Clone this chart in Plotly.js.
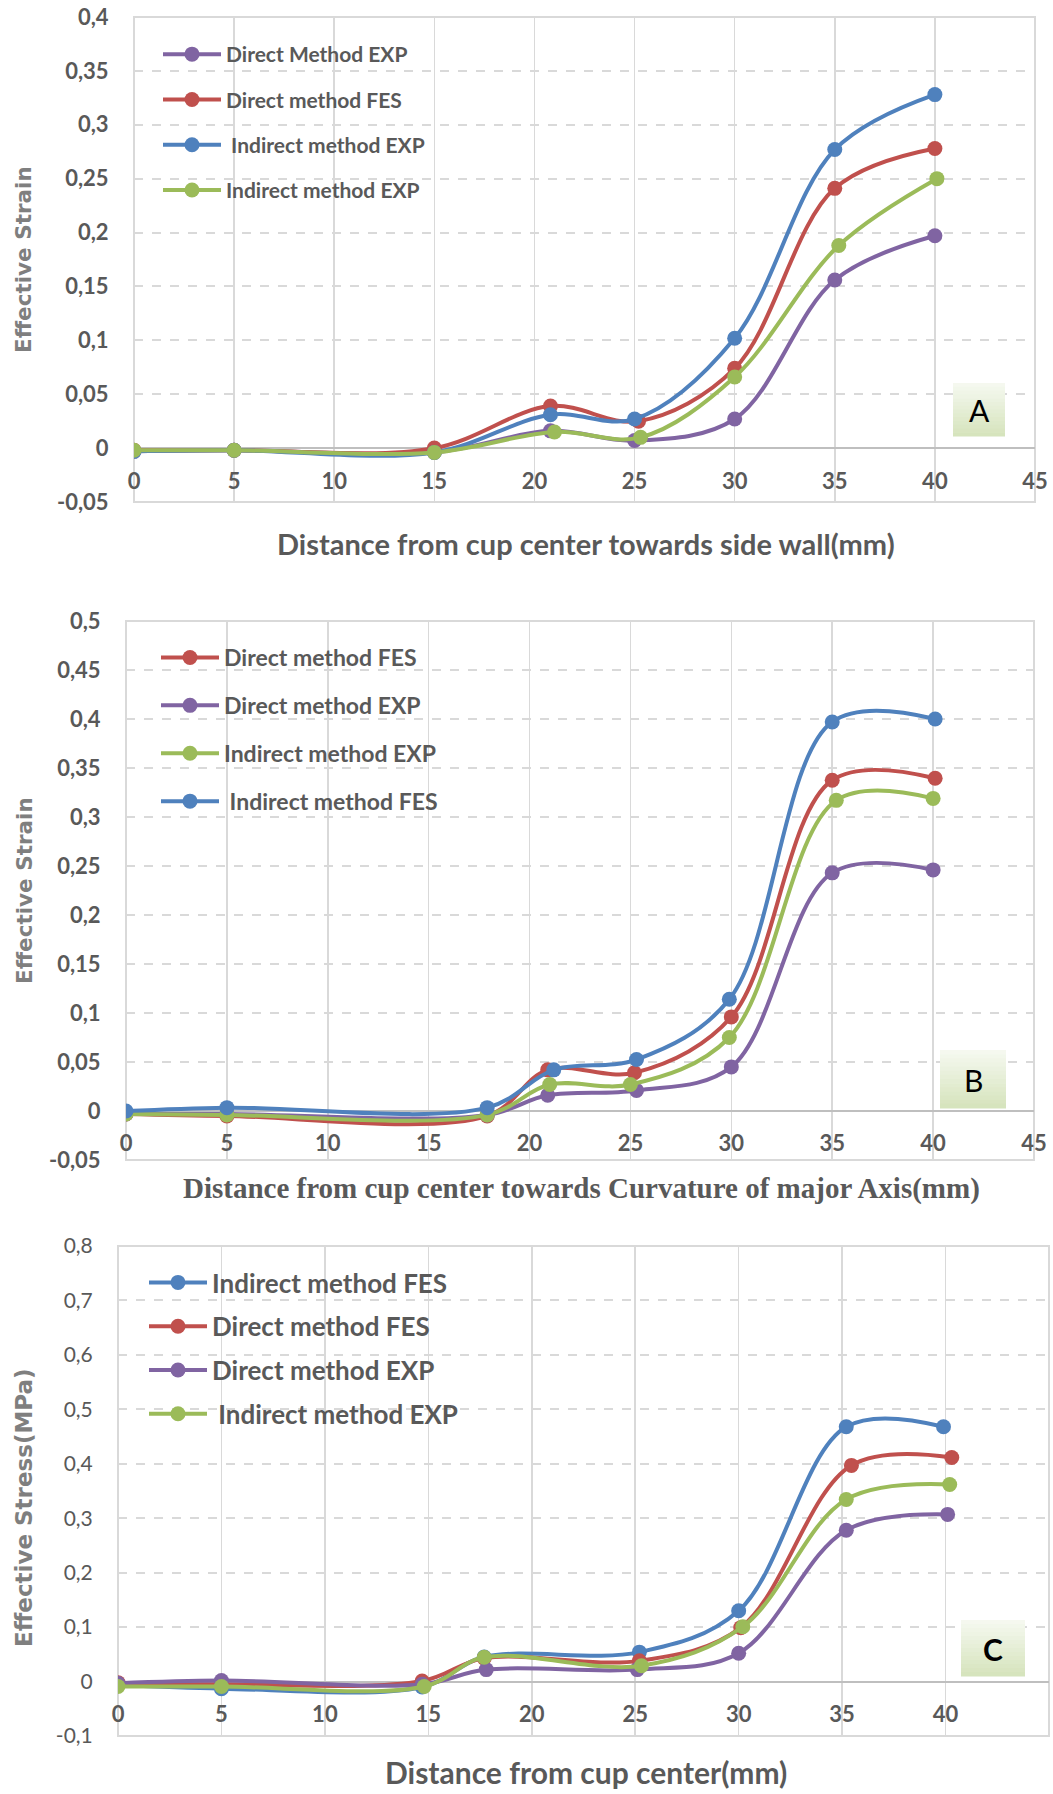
<!DOCTYPE html>
<html>
<head>
<meta charset="utf-8">
<script src="https://cdn.plot.ly/plotly-3.0.1.min.js"></script>
<style>
html,body{margin:0;padding:0;background:#fff;}
#chart{width:1053px;height:1794px;}
</style>
</head>
<body>
<div id="chart"></div>
<script>
// ---------- DATA ----------
// Chart A : Effective strain, towards side wall
const aDirectExpX   = [0, 5, 15, 20.8, 25, 30, 35, 40];
const aDirectExpY   = [-0.003, -0.002, -0.004, 0.016, 0.007, 0.027, 0.156, 0.197];
const aDirectFesX   = [0, 5, 15, 20.8, 25.2, 30, 35, 40];
const aDirectFesY   = [-0.002, -0.002, 0.0, 0.039, 0.025, 0.074, 0.241, 0.278];
const aIndirExpX    = [0, 5, 15, 20.8, 25, 30, 35, 40];
const aIndirExpY    = [-0.003, -0.002, -0.004, 0.031, 0.027, 0.102, 0.277, 0.328];
const aIndirExp2X   = [0, 5, 15, 21, 25.3, 30, 35.2, 40.1];
const aIndirExp2Y   = [-0.002, -0.002, -0.004, 0.015, 0.010, 0.066, 0.188, 0.250];
const aNames = ['Direct Method EXP', 'Direct method FES', ' Indirect method EXP', 'Indirect method EXP'];

// Chart B : Effective strain, towards curvature of major axis
const bDirectFesX   = [0, 5, 17.9, 20.9, 25.2, 30, 35, 40.1];
const bDirectFesY   = [-0.003, -0.005, -0.005, 0.042, 0.039, 0.096, 0.3375, 0.3395];
const bDirectExpX   = [0, 5, 17.9, 20.9, 25.3, 30, 35, 40];
const bDirectExpY   = [-0.003, -0.003, -0.004, 0.016, 0.021, 0.045, 0.243, 0.246];
const bIndirExpX    = [0, 5, 17.9, 21, 25, 29.9, 35.2, 40];
const bIndirExpY    = [-0.003, -0.004, -0.004, 0.027, 0.027, 0.075, 0.317, 0.319];
const bIndirFesX    = [0, 5, 17.9, 21.2, 25.3, 29.9, 35, 40.1];
const bIndirFesY    = [0.0, 0.0034, 0.0034, 0.042, 0.0525, 0.114, 0.397, 0.400];
const bNames = ['Direct method FES', 'Direct method EXP', 'Indirect method EXP', ' Indirect method FES'];

// Chart C : Effective stress, from cup center
const cIndirFesX    = [0, 5, 14.7, 17.7, 25.2, 30, 35.2, 39.9];
const cIndirFesY    = [-0.006, -0.013, -0.010, 0.045, 0.054, 0.130, 0.468, 0.468];
const cDirectFesX   = [0, 5, 14.7, 17.7, 25.2, 30.1, 35.45, 40.3];
const cDirectFesY   = [-0.002, -0.005, 0.001, 0.043, 0.038, 0.099, 0.397, 0.4115];
const cDirectExpX   = [0, 5, 14.7, 17.8, 25.1, 30, 35.2, 40.1];
const cDirectExpY   = [-0.003, 0.002, -0.005, 0.022, 0.022, 0.052, 0.278, 0.307];
const cIndirExpX    = [0, 5, 14.8, 17.7, 25.3, 30.2, 35.2, 40.2];
const cIndirExpY    = [-0.009, -0.009, -0.009, 0.0446, 0.029, 0.1007, 0.3345, 0.362];
const cNames = ['Indirect method FES', 'Direct method FES', 'Direct method EXP', ' Indirect method EXP'];

// Tick labels
const xTickVals = [0, 5, 10, 15, 20, 25, 30, 35, 40, 45];
const xTickText = ['0', '5', '10', '15', '20', '25', '30', '35', '40', '45'];
const aTickVals = [-0.05, 0, 0.05, 0.1, 0.15, 0.2, 0.25, 0.3, 0.35, 0.4];
const aTickText = ['-0,05', '0', '0,05', '0,1', '0,15', '0,2', '0,25', '0,3', '0,35', '0,4'];
const bTickVals = [-0.05, 0, 0.05, 0.1, 0.15, 0.2, 0.25, 0.3, 0.35, 0.4, 0.45, 0.5];
const bTickText = ['-0,05', '0', '0,05', '0,1', '0,15', '0,2', '0,25', '0,3', '0,35', '0,4', '0,45', '0,5'];
const cTickVals = [-0.1, 0, 0.1, 0.2, 0.3, 0.4, 0.5, 0.6, 0.7, 0.8];
const cTickText = ['-0,1', '0', '0,1', '0,2', '0,3', '0,4', '0,5', '0,6', '0,7', '0,8'];

// Titles
const aXTitle = 'Distance from cup center towards side wall(mm)';
const bXTitle = 'Distance from cup center towards Curvature of major Axis(mm)';
const cXTitle = 'Distance from cup center(mm)';
const aYTitle = 'Effective Strain';
const bYTitle = 'Effective Strain';
const cYTitle = 'Effective Stress(MPa)';
const panelLabels = ['A', 'B', 'C'];

// ---------- STYLE ----------
const W = 1053, H = 1794;
const PURPLE = '#8064A2', RED = '#C0504D', BLUE = '#4F81BD', GREEN = '#9BBB59';
const LATO = 'Lato, "Open Sans", sans-serif';
const VERD = '"DejaVu Sans", Verdana, sans-serif';
const SERIF = '"Liberation Serif", "Times New Roman", serif';
const GREY = '#595959';
const GRID = '#d9d9d9';

function px2x(p) { return p / W; }
function px2y(p) { return 1 - p / H; }

function trace(x, y, name, color, xa, ya, leg, grp) {
  return {
    x: x, y: y, name: name, type: 'scatter', mode: 'lines+markers',
    xaxis: xa, yaxis: ya, legend: leg, legendgroup: grp,
    line: { color: color, width: 4, shape: 'spline', smoothing: 1 },
    marker: { color: color, size: 15, line: { width: 0 } }
  };
}

const data = [
  trace(aDirectExpX, aDirectExpY, aNames[0], PURPLE, 'x', 'y', 'legend', 'a1'),
  trace(aDirectFesX, aDirectFesY, aNames[1], RED, 'x', 'y', 'legend', 'a2'),
  trace(aIndirExpX, aIndirExpY, aNames[2], BLUE, 'x', 'y', 'legend', 'a3'),
  trace(aIndirExp2X, aIndirExp2Y, aNames[3], GREEN, 'x', 'y', 'legend', 'a4'),

  trace(bDirectFesX, bDirectFesY, bNames[0], RED, 'x2', 'y2', 'legend2', 'b1'),
  trace(bDirectExpX, bDirectExpY, bNames[1], PURPLE, 'x2', 'y2', 'legend2', 'b2'),
  trace(bIndirExpX, bIndirExpY, bNames[2], GREEN, 'x2', 'y2', 'legend2', 'b3'),
  trace(bIndirFesX, bIndirFesY, bNames[3], BLUE, 'x2', 'y2', 'legend2', 'b4'),

  trace(cIndirFesX, cIndirFesY, cNames[0], BLUE, 'x3', 'y3', 'legend3', 'c1'),
  trace(cDirectFesX, cDirectFesY, cNames[1], RED, 'x3', 'y3', 'legend3', 'c2'),
  trace(cDirectExpX, cDirectExpY, cNames[2], PURPLE, 'x3', 'y3', 'legend3', 'c3'),
  trace(cIndirExpX, cIndirExpY, cNames[3], GREEN, 'x3', 'y3', 'legend3', 'c4')
];

// panel geometry (pixels)
const panels = [
  { l: 134, r: 1035, t: 17, b: 502, yr: [-0.05, 0.4], yv: aTickVals, yt: aTickText, ytBold: true },
  { l: 126, r: 1034, t: 621, b: 1160, yr: [-0.05, 0.5], yv: bTickVals, yt: bTickText, ytBold: true },
  { l: 118, r: 1049, t: 1246, b: 1736, yr: [-0.1, 0.8], yv: cTickVals, yt: cTickText, ytBold: false }
];

const layout = {
  width: W, height: H,
  margin: { l: 0, r: 0, t: 0, b: 0 },
  paper_bgcolor: '#ffffff', plot_bgcolor: '#ffffff',
  showlegend: true,
  shapes: [], annotations: []
};

panels.forEach((p, i) => {
  const sfx = i === 0 ? '' : String(i + 1);
  const yd = [px2y(p.b), px2y(p.t)];
  const zeroPos = yd[0] + (0 - p.yr[0]) / (p.yr[1] - p.yr[0]) * (yd[1] - yd[0]);
  layout['xaxis' + sfx] = {
    domain: [px2x(p.l), px2x(p.r)], range: [0, 45],
    anchor: 'free', position: zeroPos,
    tickmode: 'array', tickvals: xTickVals, ticktext: xTickText,
    ticks: 'outside', ticklen: 13, tickcolor: 'rgba(0,0,0,0)',
    tickfont: { family: LATO, size: 22, color: GREY, weight: 700 },
    showgrid: true, gridcolor: GRID, gridwidth: 1.5,
    showline: false, zeroline: false, fixedrange: true
  };
  layout['yaxis' + sfx] = {
    domain: yd, range: p.yr, anchor: 'x' + sfx,
    tickmode: 'array', tickvals: p.yv, ticktext: p.yt,
    ticks: 'outside', ticklen: 20, tickcolor: 'rgba(0,0,0,0)',
    tickfont: { family: LATO, size: p.ytBold ? 22 : 21, color: GREY, weight: p.ytBold ? 700 : 400 },
    showgrid: true, gridcolor: GRID, gridwidth: 2, griddash: 'dash',
    zeroline: true, zerolinecolor: '#bfbfbf', zerolinewidth: 2,
    showline: false, fixedrange: true
  };
  // plot area border
  layout.shapes.push({
    type: 'rect', xref: 'x' + sfx + ' domain', yref: 'y' + sfx + ' domain',
    x0: 0, x1: 1, y0: 0, y1: 1, line: { color: GRID, width: 2 }, layer: 'below'
  });
});

// green gradient label boxes
const boxes = [
  { x0: 953, x1: 1005, y0: 383, y1: 436, bold: false },
  { x0: 940, x1: 1006, y0: 1050, y1: 1108, bold: false },
  { x0: 961, x1: 1025, y0: 1620, y1: 1676, bold: true }
];
boxes.forEach((b, i) => {
  const n = 14;
  const top = [246, 249, 241], bot = [213, 227, 187];
  for (let k = 0; k < n; k++) {
    const f = (k + 0.5) / n;
    const c = top.map((v, j) => Math.round(v + (bot[j] - v) * f));
    const ya = b.y0 + (b.y1 - b.y0) * k / n, yb = b.y0 + (b.y1 - b.y0) * (k + 1) / n + 0.6;
    layout.shapes.push({
      type: 'rect', xref: 'paper', yref: 'paper',
      x0: px2x(b.x0), x1: px2x(b.x1), y0: px2y(yb), y1: px2y(ya),
      fillcolor: 'rgb(' + c.join(',') + ')', line: { width: 0 }, layer: 'above'
    });
  }
  layout.annotations.push({
    xref: 'paper', yref: 'paper', x: px2x((b.x0 + b.x1) / 2), y: px2y((b.y0 + b.y1) / 2 + 1),
    text: panelLabels[i], showarrow: false, xanchor: 'center', yanchor: 'middle',
    font: { family: LATO, size: 30, color: '#000000', weight: b.bold ? 700 : 400 }
  });
});

// axis titles
function ann(text, x, y, font, angle) {
  layout.annotations.push({
    xref: 'paper', yref: 'paper', x: px2x(x), y: px2y(y), text: text, showarrow: false,
    xanchor: 'center', yanchor: 'middle', textangle: angle || 0, font: font
  });
}
ann(aXTitle, 586, 543, { family: LATO, size: 29, color: GREY, weight: 700 });
ann(bXTitle, 581, 1188, { family: SERIF, size: 29, color: GREY, weight: 700 });
ann(cXTitle, 586, 1772, { family: LATO, size: 30, color: GREY, weight: 700 });
ann(aYTitle, 24, 260, { family: VERD, size: 21.5, color: '#7f7f7f', weight: 700 }, -90);
ann(bYTitle, 24, 891, { family: VERD, size: 21.5, color: '#7f7f7f', weight: 700 }, -90);
ann(cYTitle, 24, 1508, { family: VERD, size: 23, color: '#7f7f7f', weight: 700 }, -90);

// legends
function legend(xpx, ypx, fs, gap) {
  return {
    x: px2x(xpx), y: px2y(ypx), xanchor: 'left', yanchor: 'top',
    bgcolor: 'rgba(0,0,0,0)', borderwidth: 0,
    font: { family: LATO, size: fs, color: GREY, weight: 700 },
    tracegroupgap: gap, itemwidth: 58, traceorder: 'grouped'
  };
}
layout.legend = legend(158, 34, 21, 15);
layout.legend2 = legend(156, 636, 23, 15);
layout.legend3 = legend(144, 1259, 26, 7);

Plotly.newPlot('chart', data, layout, { staticPlot: true, displayModeBar: false });
</script>
</body>
</html>
